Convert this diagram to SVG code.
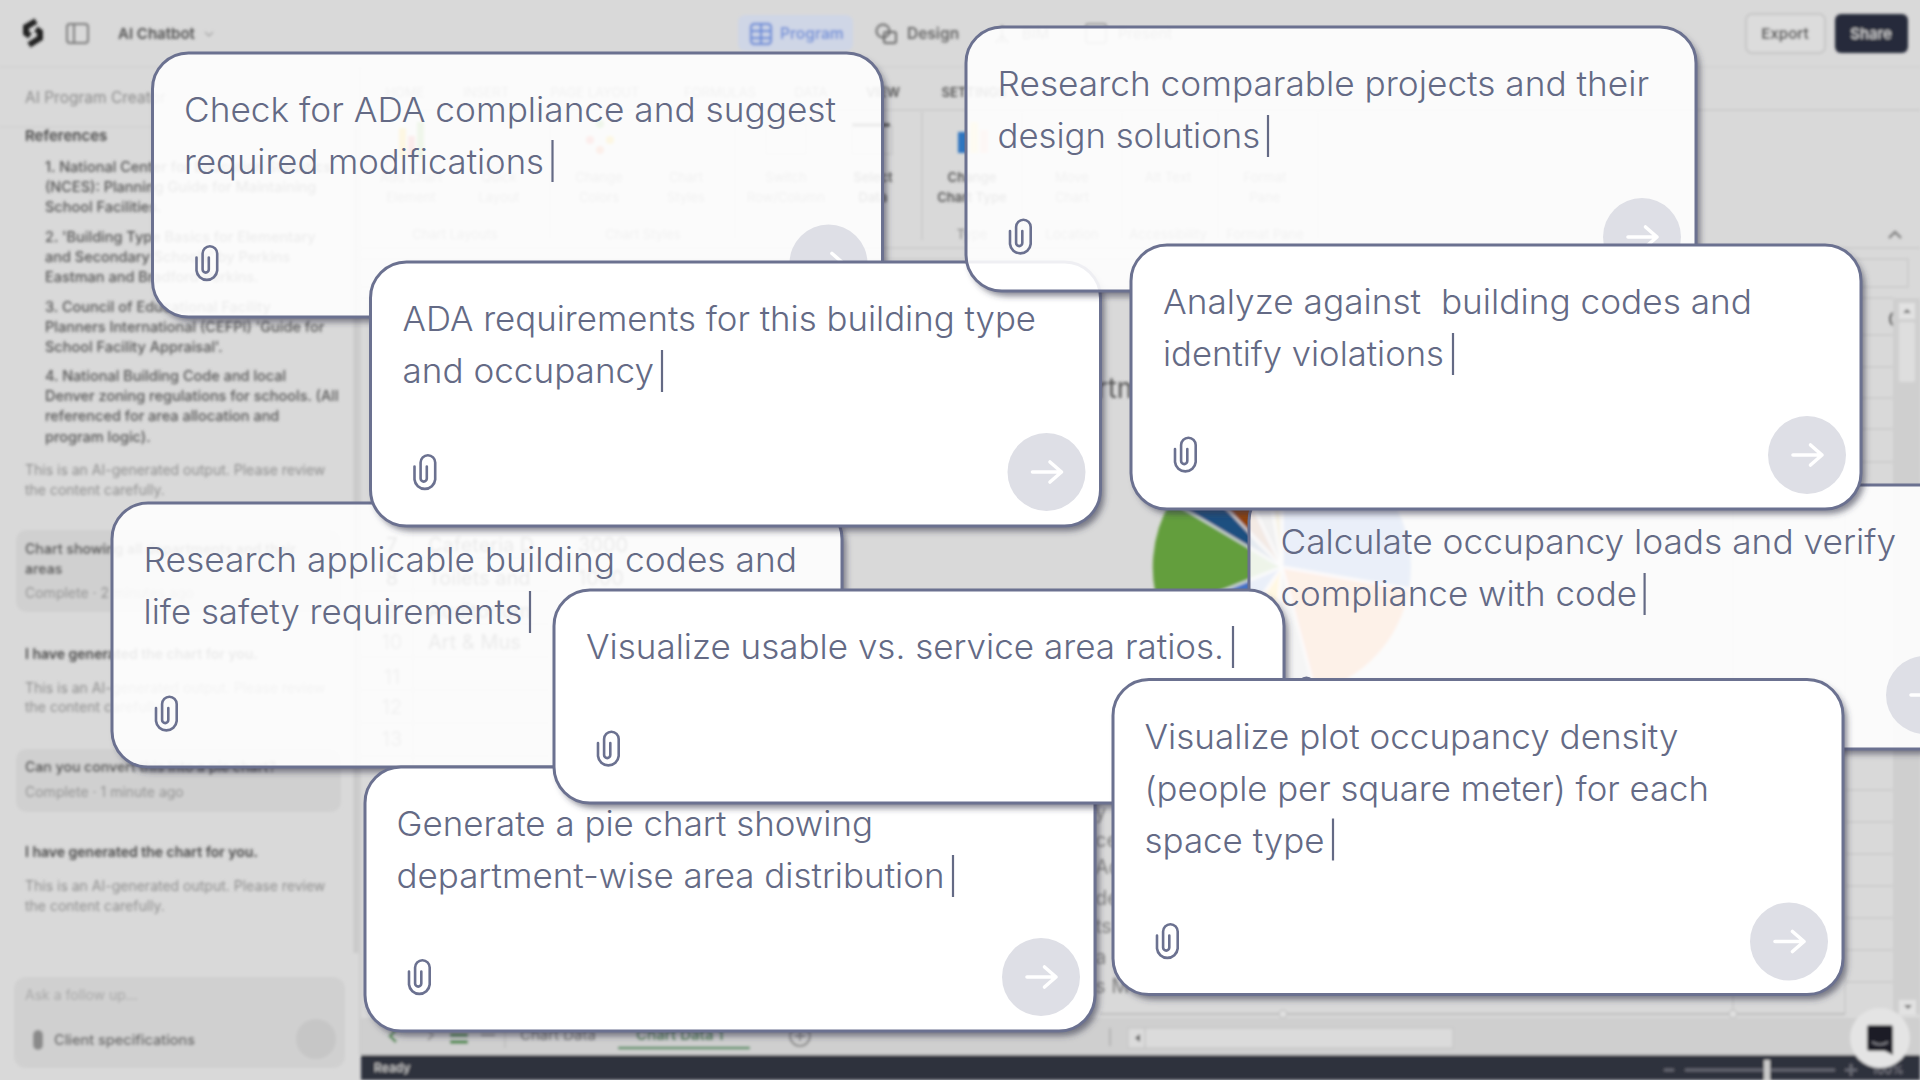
<svg xmlns="http://www.w3.org/2000/svg" width="1920" height="1080" viewBox="0 0 1920 1080">
<style>
.f{font-family:"Inter","Liberation Sans",sans-serif}
.bg{font-family:"Inter","Liberation Sans",sans-serif;font-size:14px;fill:#8e8e8e}
.bd{fill:#4a4a4a;font-weight:600}
.md{fill:#555;font-weight:500;font-size:14.5px}
.rb{font-size:13px;fill:#808080;text-anchor:middle}
.rd{fill:#555;font-weight:600}
.ln{stroke:#c9c9c9;stroke-width:1.5;fill:none}
.t{font-family:"Inter","Liberation Sans",sans-serif;font-size:34px;font-weight:350;fill:#646a85;white-space:pre}
.cur{stroke:#646a85;stroke-width:2.2}
.edge{stroke:#6b7190;stroke-width:3}
.solid{fill:#fff}
.glass{fill:#fff;fill-opacity:.89}
.sh{fill:#000}
.pc{fill:none;stroke:#6b7190;stroke-width:2.6;stroke-linecap:round}
.btn{fill:#dedfe6}
.arr{fill:none;stroke:#fff;stroke-width:3.6;stroke-linecap:round;stroke-linejoin:round}
</style>
<defs>
<filter id="blur" filterUnits="userSpaceOnUse" x="0" y="0" width="1920" height="1080"><feGaussianBlur stdDeviation="1.8"/></filter>
<filter id="outer" x="-3%" y="-6%" width="106%" height="115%"><feGaussianBlur in="SourceAlpha" stdDeviation="3" result="b"/><feOffset in="b" dx="4" dy="5" result="o"/><feFlood flood-color="#34364a" flood-opacity=".6"/><feComposite in2="o" operator="in"/><feComposite in2="SourceAlpha" operator="out"/></filter>
<g id="clip"><path class="pc" d="M-10 -6V7A10.4 10.4 0 0 0 10.7 7V-10A7.3 7.3 0 0 0 -3.9 -10V6A3.1 3.1 0 0 0 2.3 6V-6"/></g>
<g id="go"><circle class="btn" r="39"/><path class="arr" d="M-14 0H15M3.5 -10L15 0L3.5 10"/></g>
</defs>
<rect width="1920" height="1080" fill="#d9d9d9"/>
<g id="background" filter="url(#blur)">
<g id="topbar">
<path d="M36 21L26 27V33L30 36M29 45L40 38V32L36 29" fill="none" stroke="#222" stroke-width="6"/>
<rect x="67" y="24" width="21" height="19" rx="3" fill="none" stroke="#7c7c7c" stroke-width="2"/><path d="M74 24V43" stroke="#7c7c7c" stroke-width="2"/>
<text class="bg" x="118" y="39" style="font-size:15px;font-weight:600;fill:#4f4f4f">AI Chatbot</text><path d="M205 32l4 4l4-4" class="ln" style="stroke:#aaa"/>
<rect x="738" y="15" width="115" height="36" rx="7" fill="#cfd6e6"/>
<g fill="none" stroke="#6f8fd8" stroke-width="2.4"><rect x="751" y="24" width="20" height="20" rx="3"/><path d="M751 31H771M751 38H771M761 24V44"/></g>
<text class="bg" x="780" y="39" style="font-size:15.5px;font-weight:600;fill:#6f8fd8">Program</text>
<g fill="none" stroke="#6a6a6a" stroke-width="2"><circle cx="883" cy="31" r="6.5"/><rect x="884" y="32" width="12" height="11" rx="2"/></g>
<text class="bg" x="907" y="39" style="font-size:15.5px;font-weight:600;fill:#666">Design</text>
<path d="M1002 43l0-8l-6 8M1002 35l6 8M1002 35v-10" class="ln" style="stroke:#8c8c8c"/><text class="bg" x="1022" y="39" style="font-size:15px;fill:#7c7c7c">BIM</text>
<rect x="1086" y="24" width="20" height="19" rx="2" class="ln" style="stroke:#8c8c8c"/><text class="bg" x="1118" y="39" style="font-size:15px;fill:#7c7c7c">Present</text>
<rect x="1746" y="14" width="79" height="39" rx="6" fill="#dcdcdc" stroke="#c6c6c6" stroke-width="2"/><text class="bg" x="1785" y="39" style="font-size:15px;font-weight:600;fill:#444;text-anchor:middle">Export</text>
<rect x="1835" y="14" width="73" height="39" rx="6" fill="#282a3a"/><text class="bg" x="1871" y="39" style="font-size:15px;font-weight:500;fill:#d6d6d6;text-anchor:middle">Share</text>
<path d="M0 67H1920" class="ln" style="stroke:#d0d0d0"/>
</g>
<g id="sidepanel">
<path d="M0 127H360" class="ln" style="stroke:#d0d0d0"/><path d="M360 67V1055" class="ln"/><path d="M356 127V953" stroke="#c9c9c9" stroke-width="5"/>
<text class="bg" x="25" y="103" style="font-size:15.5px;fill:#8c8c8c">AI Program Creator</text>
<text class="bg bd" x="25" y="141" style="font-size:15px">References</text>
<text class="bg md" x="45" y="172">1. National Center for Education Statistics</text>
<text class="bg md" x="45" y="192">(NCES): Planning Guide for Maintaining</text>
<text class="bg md" x="45" y="212">School Facilities.</text>
<text class="bg md" x="45" y="242">2. 'Building Type Basics for Elementary</text>
<text class="bg md" x="45" y="262">and Secondary Schools' by Perkins</text>
<text class="bg md" x="45" y="282">Eastman and Bradford Perkins.</text>
<text class="bg md" x="45" y="312">3. Council of Educational Facility</text>
<text class="bg md" x="45" y="332">Planners International (CEFPI) 'Guide for</text>
<text class="bg md" x="45" y="352">School Facility Appraisal'.</text>
<text class="bg md" x="45" y="381">4. National Building Code and local</text>
<text class="bg md" x="45" y="401">Denver zoning regulations for schools. (All</text>
<text class="bg md" x="45" y="421">referenced for area allocation and</text>
<text class="bg md" x="45" y="442">program logic).</text>
<text class="bg" x="25" y="475">This is an AI-generated output. Please review</text>
<text class="bg" x="25" y="495">the content carefully.</text>
<rect x="16" y="530" width="325" height="82" rx="10" fill="#d0d0d0"/>
<text class="bg bd" x="25" y="554">Chart showing all departments and their</text>
<text class="bg bd" x="25" y="574">areas</text>
<text class="bg" x="25" y="598">Complete · 2 minutes ago</text>
<text class="bg bd" x="25" y="659">I have generated the chart for you.</text>
<text class="bg" x="25" y="693">This is an AI-generated output. Please review</text>
<text class="bg" x="25" y="712">the content carefully.</text>
<rect x="16" y="749" width="325" height="63" rx="10" fill="#d0d0d0"/>
<text class="bg bd" x="25" y="772">Can you convert this into a pie chart?</text>
<text class="bg" x="25" y="797">Complete · 1 minute ago</text>
<text class="bg bd" x="25" y="857">I have generated the chart for you.</text>
<text class="bg" x="25" y="891">This is an AI-generated output. Please review</text>
<text class="bg" x="25" y="911">the content carefully.</text>
<rect x="14" y="977" width="331" height="91" rx="12" fill="#d0d0d0"/>
<text class="bg" x="25" y="1000" style="fill:#a6a6a6">Ask a follow up...</text>
<rect x="33" y="1030" width="10" height="20" rx="5" fill="#8a8a8a"/>
<text class="bg md" x="54" y="1045">Client specifications</text>
<circle cx="316" cy="1039" r="20" fill="#c6c6c6"/>
</g>
<g id="ribbon">
<text class="bg rb" x="405" y="97">HOME</text><text class="bg rb" x="486" y="97">INSERT</text><text class="bg rb" x="595" y="97">PAGE LAYOUT</text><text class="bg rb" x="720" y="97">FORMULAS</text><text class="bg rb" x="811" y="97">DATA</text><text class="bg rb rd" x="883" y="97">VIEW</text><text class="bg rb rd" x="974" y="97">SETTINGS</text>
<text class="bg rb" x="411" y="182">Add Chart</text><text class="bg rb" x="411" y="202">Element</text>
<text class="bg rb" x="499" y="182">Quick</text><text class="bg rb" x="499" y="202">Layout</text>
<text class="bg rb" x="599" y="182">Change</text><text class="bg rb" x="599" y="202">Colors</text>
<text class="bg rb" x="686" y="182">Chart</text><text class="bg rb" x="686" y="202">Styles</text>
<text class="bg rb" x="786" y="182">Switch</text><text class="bg rb" x="786" y="202">Row/Column</text>
<text class="bg rb rd" x="873" y="182">Select</text><text class="bg rb rd" x="873" y="202">Data</text>
<text class="bg rb rd" x="972" y="182">Change</text><text class="bg rb rd" x="972" y="202">Chart Type</text>
<text class="bg rb" x="1072" y="182">Move</text><text class="bg rb" x="1072" y="202">Chart</text>
<text class="bg rb" x="1168" y="182">Alt Text</text>
<text class="bg rb" x="1265" y="182">Format</text><text class="bg rb" x="1265" y="202">Pane</text>
<text class="bg rb" x="455" y="239">Chart Layouts</text><text class="bg rb" x="643" y="239">Chart Styles</text><text class="bg rb" x="830" y="239">Data</text><text class="bg rb" x="972" y="239">Type</text><text class="bg rb" x="1072" y="239">Location</text><text class="bg rb" x="1168" y="239">Accessibility</text><text class="bg rb" x="1265" y="239">Format Pane</text>
<path class="ln" d="M360 110H1920M360 248H1920M922 112V240M1022 112V240M1122 112V240M1218 112V240M1318 112V240M550 112V240M735 112V240"/>
<rect x="399" y="128" width="7" height="30" fill="#e8b400"/><rect x="408" y="136" width="7" height="22" fill="#d9534f"/><rect x="417" y="122" width="7" height="36" fill="#70ad47"/><circle cx="600" cy="124" r="4" fill="#70ad47"/><circle cx="590" cy="140" r="4" fill="#e05a4f"/><circle cx="610" cy="140" r="4" fill="#e8b400"/><circle cx="600" cy="150" r="4" fill="#e0703f"/>
<rect x="958" y="132" width="10" height="21" fill="#2f75c0"/><rect x="970" y="122" width="8" height="31" fill="#efd98a"/><rect x="980" y="130" width="8" height="23" fill="#eeb5a5"/>
<rect x="766" y="124" width="40" height="30" class="ln"/><rect x="852" y="126" width="40" height="28" class="ln"/><path d="M852 125H890" stroke="#444" stroke-width="3"/>
<path d="M1889 238l6-6l6 6" fill="none" stroke="#777" stroke-width="2"/>
</g>
<g id="sheet">
<path class="ln" d="M360 259H1908V287H360M360 298H1893"/>
<path class="ln" d="M413 500V1014M1845 298V1014M1733 298V1014M360 558H550M360 591H550M360 624H550M360 657H550M360 690H550M360 723H550M360 756H550M1845 335H1893M1845 367H1893M1845 398H1893M1845 429H1893M1845 462H1893M1845 790H1893M1845 822H1893M1845 854H1893M1845 886H1893M1845 918H1893M1845 950H1893M1845 982H1893"/>
<text class="f" x="1888" y="327" font-size="22" fill="#555">C</text>
<rect x="1893" y="298" width="27" height="716" fill="#cfcfcf"/>
<rect x="1899" y="322" width="16" height="60" rx="2" fill="#dedede"/>
<rect x="1899" y="303" width="16" height="16" fill="#e2e2e2"/><path d="M1903 313l4-4l4 4z" fill="#666"/>
<rect x="1899" y="1000" width="17" height="15" fill="#e2e2e2"/><path d="M1904 1005l4 4l4-4z" fill="#666"/>
<g fill="#808080" font-size="20" font-family="Inter,'Liberation Sans',sans-serif">
<text x="392" y="552" text-anchor="middle" fill="#444">7</text><text x="392" y="585" text-anchor="middle" fill="#444">8</text><text x="392" y="618" text-anchor="middle">9</text><text x="392" y="649" text-anchor="middle">10</text><text x="392" y="684" text-anchor="middle">11</text><text x="392" y="714" text-anchor="middle">12</text><text x="392" y="746" text-anchor="middle">13</text>
<text x="428" y="552" fill="#444">Cafeteria D</text><text x="428" y="585" fill="#444">Toilets and</text><text x="428" y="618" fill="#444">Auditorium</text><text x="428" y="649" fill="#444">Art &amp; Mus</text><text x="578" y="552" fill="#444">3000</text><text x="578" y="585" fill="#444">1000</text>
</g>
<text class="f" x="1027" y="398" font-size="28" fill="#555">Department</text>
<g id="pie">
<path d="M1282 567L1282 438A129 129 0 0 1 1409 589Z" fill="#4472c4"/>
<path d="M1282 567L1409 589A129 129 0 0 1 1315 692Z" fill="#ed7d31"/>
<path d="M1282 567L1315 692A129 129 0 0 1 1271 696Z" fill="#a5a5a5"/>
<path d="M1282 567L1271 696A129 129 0 0 1 1208 673Z" fill="#ffc000"/>
<path d="M1282 567L1208 673A129 129 0 0 1 1162 615Z" fill="#4472c4"/>
<path d="M1282 567L1162 615A129 129 0 0 1 1171 501Z" fill="#649e3e"/>
<path d="M1282 567L1171 501A129 129 0 0 1 1193 473Z" fill="#1f5080"/>
<path d="M1282 567L1193 473A129 129 0 0 1 1227 450Z" fill="#8f4310"/>
<path d="M1282 567L1227 450A129 129 0 0 1 1260 440Z" fill="#7c7c7c"/>
<path d="M1282 567L1260 440A129 129 0 0 1 1282 438Z" fill="#b89a20"/>
<path d="M1282 567L1282 438M1282 567L1409 589M1282 567L1315 692M1282 567L1271 696M1282 567L1208 673M1282 567L1162 615M1282 567L1171 501M1282 567L1193 473M1282 567L1227 450M1282 567L1260 440" stroke="#e6e6e6" stroke-width="2"/>
</g>
<g fill="#808080" font-size="20" font-family="Inter,'Liberation Sans',sans-serif">
<text x="1095" y="819">y</text><text x="1095" y="847">ce</text><text x="1095" y="874">Ad</text><text x="1095" y="905">de</text><text x="1095" y="933">ts</text><text x="1095" y="964">a</text><text x="1095" y="993">s M</text>
</g>
<path class="ln" d="M1100 1014H1845" style="stroke:#bdbdbd;stroke-width:2"/><circle cx="1283" cy="1014" r="4" fill="#e0e0e0" stroke="#bbb"/><circle cx="1733" cy="1014" r="4" fill="#e0e0e0" stroke="#bbb"/>
</g>
<g id="statusbar">
<rect x="361" y="1018" width="1559" height="37" fill="#cfcfcf"/>
<path d="M390 1030l6 6l-6 6" fill="none" stroke="#4a8a4a" stroke-width="2.5" transform="rotate(180 393 1036)"/>
<path d="M428 1030l5 5l-5 5" fill="none" stroke="#999" stroke-width="2"/>
<path d="M450 1028H468M450 1035H468M450 1042H468" stroke="#4a8a4a" stroke-width="3.5"/><path d="M481 1035H495M481 1030H495" stroke="#888" stroke-width="2"/>
<path d="M505 1022V1048" stroke="#bbb" stroke-width="1.5"/>
<text class="bg" x="520" y="1040" style="font-size:15px;fill:#5a5a5a">Chart Data</text>
<text class="bg" x="636" y="1040" style="font-size:15px;font-weight:600;fill:#3d7a4a">Chart Data 1</text>
<path d="M618 1048H750" stroke="#4a8a58" stroke-width="2.5"/>
<circle cx="800" cy="1036" r="10" fill="none" stroke="#888" stroke-width="2"/><path d="M795 1036H805M800 1031V1041" stroke="#888" stroke-width="2"/>
<path d="M1110 1028V1046" stroke="#aaa" stroke-width="1.5"/>
<rect x="1128" y="1028" width="325" height="20" fill="#dbdbdb" stroke="#c2c2c2"/><path d="M1140 1034l-5 4l5 4z" fill="#555"/><path d="M1145 1028V1048" stroke="#bbb"/>
<rect x="361" y="1055" width="1559" height="25" fill="#2e303c"/>
<text class="bg" x="374" y="1072" style="font-size:12px;font-weight:600;fill:#c4c4c4">Ready</text>
<path d="M1664 1070H1674M1685 1070H1835M1845 1070H1857M1851 1064V1076" stroke="#6c6e78" stroke-width="2.5"/><rect x="1764" y="1060" width="6" height="20" fill="#c9c9c9"/>
<text class="bg" x="1872" y="1074" style="font-size:12px;fill:#8a8a92">100%</text>
<circle cx="1880" cy="1038" r="30" fill="#e4e4e4"/>
<path d="M1870 1025H1890Q1893 1025 1893 1028V1055L1885 1051H1870Q1867 1051 1867 1048V1028Q1867 1025 1870 1025Z" fill="#1d1d25"/><path d="M1872 1042Q1880 1047 1888 1042" fill="none" stroke="#8a8a92" stroke-width="1.5"/>
</g>
</g>
<g id="card-check" transform="translate(152.5,53)">
<rect class="sh" width="730" height="264" rx="36" filter="url(#outer)"/><rect class="glass edge" width="730" height="264" rx="36"/>
<text class="t" x="31.5" y="68.5" textLength="652" lengthAdjust="spacingAndGlyphs">Check for ADA compliance and suggest</text>
<text class="t" x="31.5" y="120.5" textLength="360" lengthAdjust="spacingAndGlyphs">required modifications</text><path class="cur" d="M400 87V129"/>
<use href="#clip" x="54" y="210.5"/><use href="#go" x="676" y="210.5"/>
</g>
<g id="card-research-codes" transform="translate(112,503)">
<rect class="sh" width="730" height="264" rx="36" filter="url(#outer)"/><rect class="glass edge" width="730" height="264" rx="36"/>
<text class="t" x="31.5" y="69" textLength="653.5" lengthAdjust="spacingAndGlyphs">Research applicable building codes and</text>
<text class="t" x="31.5" y="121" textLength="379" lengthAdjust="spacingAndGlyphs">life safety requirements</text><path class="cur" d="M418 88V130"/>
<use href="#clip" x="54" y="211"/><use href="#go" x="676" y="211"/>
</g>
<g id="card-calculate" transform="translate(1249,485)">
<rect class="sh" width="730" height="264" rx="36" filter="url(#outer)"/><rect class="glass edge" width="730" height="264" rx="36"/>
<text class="t" x="31.5" y="69" textLength="615.5" lengthAdjust="spacingAndGlyphs">Calculate occupancy loads and verify</text>
<text class="t" x="31.5" y="121" textLength="356.5" lengthAdjust="spacingAndGlyphs">compliance with code</text><path class="cur" d="M395.6 88V130"/>
<use href="#clip" x="54" y="210"/><use href="#go" x="676" y="210"/>
</g>
<g id="card-ada" transform="translate(370.5,262)">
<rect class="sh" width="730" height="264" rx="36" filter="url(#outer)"/><rect class="solid edge" width="730" height="264" rx="36"/>
<text class="t" x="32" y="69" textLength="633.5" lengthAdjust="spacingAndGlyphs">ADA requirements for this building type</text>
<text class="t" x="32" y="121" textLength="251.5" lengthAdjust="spacingAndGlyphs">and occupancy</text><path class="cur" d="M291.5 88V130"/>
<use href="#clip" x="54" y="210.5"/><use href="#go" x="676" y="210"/>
</g>
<g id="card-research-projects" transform="translate(966,27)">
<rect class="sh" width="730" height="264" rx="36" filter="url(#outer)"/><rect class="glass edge" width="730" height="264" rx="36"/>
<text class="t" x="31.6" y="69" textLength="651.5" lengthAdjust="spacingAndGlyphs">Research comparable projects and their</text>
<text class="t" x="31.6" y="121" textLength="262.5" lengthAdjust="spacingAndGlyphs">design solutions</text><path class="cur" d="M302 88V130"/>
<use href="#clip" x="54" y="210"/><use href="#go" x="676" y="210"/>
</g>
<g id="card-analyze" transform="translate(1131,245)">
<rect class="sh" width="730" height="264" rx="36" filter="url(#outer)"/><rect class="solid edge" width="730" height="264" rx="36"/>
<text class="t" x="32" y="69" textLength="589" lengthAdjust="spacingAndGlyphs">Analyze against  building codes and</text>
<text class="t" x="32" y="121" textLength="281" lengthAdjust="spacingAndGlyphs">identify violations</text><path class="cur" d="M322 88V130"/>
<use href="#clip" x="54" y="210"/><use href="#go" x="676" y="210"/>
</g>
<g id="card-pie" transform="translate(365,767)">
<rect class="sh" width="730" height="264" rx="36" filter="url(#outer)"/><rect class="solid edge" width="730" height="264" rx="36"/>
<text class="t" x="31.5" y="69" textLength="476.5" lengthAdjust="spacingAndGlyphs">Generate a pie chart showing</text>
<text class="t" x="31.5" y="121" textLength="548" lengthAdjust="spacingAndGlyphs">department-wise area distribution</text><path class="cur" d="M588 88V130"/>
<use href="#clip" x="54" y="210.5"/><use href="#go" x="676" y="210"/>
</g>
<g id="card-ratios" transform="translate(554,590)">
<rect class="sh" width="730" height="213" rx="36" filter="url(#outer)"/><rect class="solid edge" width="730" height="213" rx="36"/>
<text class="t" x="32" y="69" textLength="638" lengthAdjust="spacingAndGlyphs">Visualize usable vs. service area ratios.</text><path class="cur" d="M679 36V78"/>
<use href="#clip" x="54" y="159"/><use href="#go" x="676" y="159"/>
</g>
<g id="card-density" transform="translate(1113,679.5)">
<rect class="sh" width="730" height="315" rx="36" filter="url(#outer)"/><rect class="solid edge" width="730" height="315" rx="36"/>
<text class="t" x="31.5" y="69" textLength="534" lengthAdjust="spacingAndGlyphs">Visualize plot occupancy density</text>
<text class="t" x="31.5" y="121" textLength="564.5" lengthAdjust="spacingAndGlyphs">(people per square meter) for each</text>
<text class="t" x="31.5" y="173" textLength="180" lengthAdjust="spacingAndGlyphs">space type</text><path class="cur" d="M220 139V181"/>
<use href="#clip" x="54" y="262"/><use href="#go" x="676" y="262"/>
</g>
</svg>
